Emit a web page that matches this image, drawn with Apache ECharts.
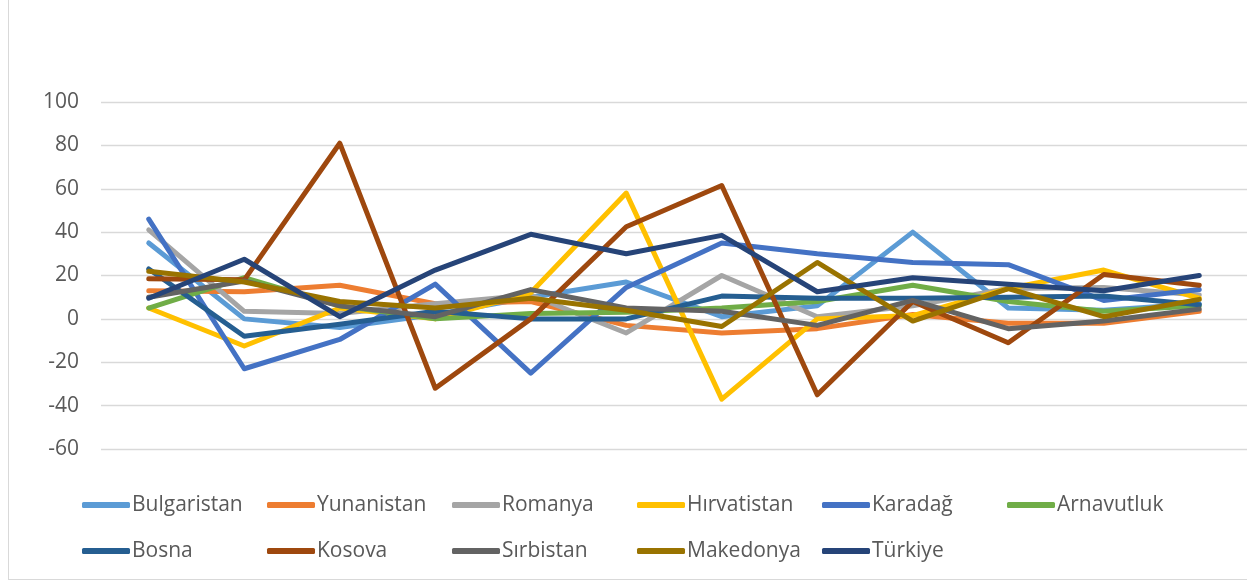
<!DOCTYPE html>
<html>
<head>
<meta charset="utf-8">
<script src="https://cdn.jsdelivr.net/npm/echarts@6/dist/echarts.min.js"></script>
<style>
  html, body { margin: 0; padding: 0; background: #fff; }
  #frame { position: absolute; left: 8px; top: -1px; width: 1245px; height: 579px; border: 1px solid #d9d9d9; }
  #main { position: absolute; left: 0; top: 0; width: 1247px; height: 581px; }
</style>
</head>
<body>
<div id="frame"></div>
<div id="main"></div>
<script>
// 12 dönem, eksende etiket yok
var categories = ['1', '2', '3', '4', '5', '6', '7', '8', '9', '10', '11', '12'];

var bulgaristan = [35, 0, -4, 2, 10, 17, 1, 6, 40, 5, 4, 7];
var yunanistan  = [13, 12.5, 15.5, 7, 8, -3, -6.5, -4.5, 2, -2, -2, 3.5];
var romanya     = [41, 3.5, 2.5, 7, 11, -6.5, 20, 1, 6, 14, 14.5, 11];
var hirvatistan = [5, -12.5, 5, 0, 12, 58, -37, 0, 1.5, 14, 22.5, 9.5];
var karadag     = [46, -23, -9.5, 16, -25, 14.5, 35, 30, 26, 25, 8.5, 13.5];
var arnavutluk  = [5, 19, 6, 0, 2.5, 3, 5, 8, 15.5, 8, 3.5, 6];
var bosna       = [23, -8, -2.5, 3.5, 0, 0, 10.5, 9.5, 9.5, 10, 10.5, 6.5];
var kosova      = [18.5, 18, 81, -32, 0, 42.5, 61.5, -35, 8, -11, 20.5, 15.5];
var sirbistan   = [10, 17.5, 6, 1, 13.5, 5, 3.5, -3, 8.5, -4.5, -1, 4.5];
var makedonya   = [22, 17, 8, 5, 9.5, 4, -3.5, 26, -1, 14, 1, 9];
var turkiye     = [9.5, 27.5, 1, 22.5, 39, 30, 38.5, 12.5, 19, 16, 13, 20];

var yTicks = [-60, -40, -20, 0, 20, 40, 60, 80, 100];

var names = ['Bulgaristan', 'Yunanistan', 'Romanya', 'Hırvatistan', 'Karadağ', 'Arnavutluk',
             'Bosna', 'Kosova', 'Sırbistan', 'Makedonya', 'Türkiye'];
var values = [bulgaristan, yunanistan, romanya, hirvatistan, karadag, arnavutluk,
              bosna, kosova, sirbistan, makedonya, turkiye];
var colors = ['#5B9BD5', '#ED7D31', '#A5A5A5', '#FFC000', '#4472C4', '#70AD47',
              '#255E91', '#9E480E', '#636363', '#997300', '#264478'];

var font = '"Open Sans", "Liberation Sans", sans-serif';

var series = [];
for (var i = 0; i < names.length; i++) {
  series.push({
    name: names[i],
    type: 'line',
    data: values[i],
    symbol: 'none',
    showSymbol: false,
    color: colors[i],
    lineStyle: { width: 5, color: colors[i], cap: 'round', join: 'round' }
  });
}

// legend: 6 sütun, 2 satır (Excel düzeni)
var legends = [];
var colLeft = [77, 262, 447, 632, 817, 1002];
for (var c = 0; c < 6; c++) {
  var d = [names[c]];
  if (names[c + 6]) d.push(names[c + 6]);
  legends.push({
    data: d,
    orient: 'vertical',
    left: colLeft[c],
    top: 489,
    itemWidth: 48,
    itemHeight: 6,
    itemGap: 24,
    icon: 'roundRect',
    textStyle: { fontFamily: font, fontSize: 21, color: '#595959', lineHeight: 22, padding: [0, 0, 0, -3] },
    selectedMode: false
  });
}

var chart = echarts.init(document.getElementById('main'), null, { renderer: 'canvas' });
chart.setOption({
  animation: false,
  backgroundColor: 'transparent',
  grid: { left: 101, right: 0, top: 102, bottom: 132, containLabel: false },
  legend: legends,
  xAxis: {
    type: 'category',
    data: categories,
    boundaryGap: true,
    axisLine: { show: false },
    axisTick: { show: false },
    axisLabel: { show: false },
    splitLine: { show: false }
  },
  yAxis: {
    type: 'value',
    min: yTicks[0],
    max: yTicks[yTicks.length - 1],
    interval: 20,
    axisLine: { show: false },
    axisTick: { show: false },
    axisLabel: { margin: 22, fontFamily: font, fontSize: 21, color: '#595959' },
    splitLine: { lineStyle: { color: '#D9D9D9', width: 1.3 } }
  },
  series: series
});
</script>
</body>
</html>
